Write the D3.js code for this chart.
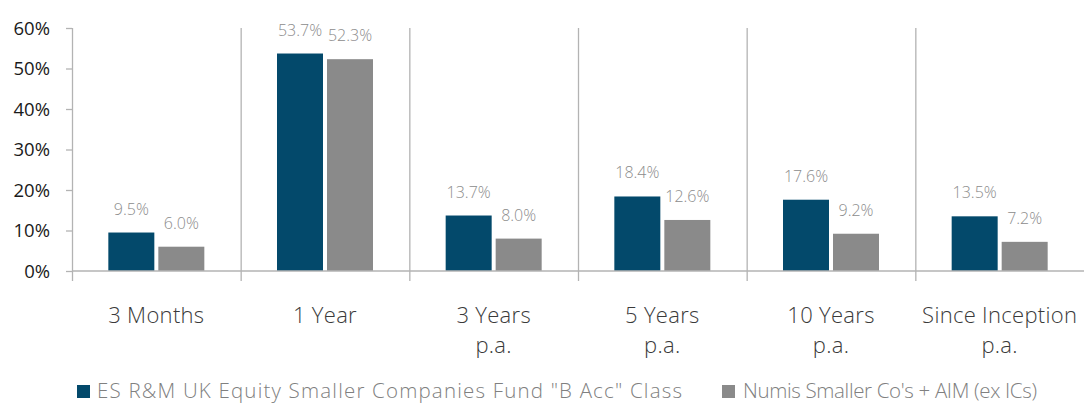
<!DOCTYPE html>
<html>
<head>
<meta charset="utf-8">
<script src="https://cdn.jsdelivr.net/npm/d3@7"></script>
<style>
  body { margin: 0; background: #fff; }
  text { font-family: "Open Sans", "Noto Sans", sans-serif; }
</style>
</head>
<body>
<div id="chart"></div>
<script>
// chart data
const categories = ["3 Months", "1 Year", "3 Years\np.a.", "5 Years\np.a.", "10 Years\np.a.", "Since Inception\np.a."];
const seriesNames = ['ES R&M UK Equity Smaller Companies Fund "B Acc" Class', "Numis Smaller Co's + AIM (ex ICs)"];
const fundValues = [9.5, 53.7, 13.7, 18.4, 17.6, 13.5];
const indexValues = [6.0, 52.3, 8.0, 12.6, 9.2, 7.2];
const yTicks = [0, 10, 20, 30, 40, 50, 60];
const colors = ["#03496b", "#8a8a8a"];

const width = 1084, height = 403;
const margin = {top: 28, right: 0, bottom: 132, left: 72};
const innerWidth = width - margin.left - margin.right;
const innerHeight = height - margin.top - margin.bottom;

const svg = d3.select("#chart").append("svg")
    .attr("width", width)
    .attr("height", height);
const g = svg.append("g")
    .attr("transform", `translate(${margin.left},${margin.top})`);

const x = d3.scaleBand()
    .domain(categories)
    .range([0, innerWidth]);

const y = d3.scaleLinear()
    .domain([0, 60])
    .range([innerHeight, 0]);

const data = categories.map((c, i) => ({cat: c, vals: [fundValues[i], indexValues[i]]}));

// category separators
g.selectAll(".sep")
    .data(categories)
    .join("line")
        .attr("class", "sep")
        .attr("x1", d => x(d) + 0.5)
        .attr("x2", d => x(d) + 0.5)
        .attr("y1", 0)
        .attr("y2", innerHeight + 10)
        .attr("stroke", "#b3b3b3")
        .attr("stroke-width", 1.3);

// y axis
const yAxis = d3.axisLeft(y)
    .tickValues(yTicks)
    .tickFormat(d => d + "%")
    .tickSize(6)
    .tickPadding(16);
const yG = g.append("g").call(yAxis);
yG.select(".domain").remove();
yG.selectAll(".tick line").attr("stroke", "#b3b3b3").attr("stroke-width", 1.3);
yG.selectAll(".tick text")
    .attr("fill", "#1a1a1a")
    .style("font-size", "18.5px")
    .attr("dy", "0.35em");

// bars
const barW = 46, gap = 4;
const groups = g.selectAll(".grp")
    .data(data)
    .join("g")
        .attr("class", "grp")
        .attr("transform", d => `translate(${x(d.cat) + x.bandwidth() / 2},0)`);

groups.selectAll("rect")
    .data(d => d.vals)
    .join("rect")
        .attr("x", (d, i) => i === 0 ? -barW - gap / 2 : gap / 2)
        .attr("y", d => y(d))
        .attr("width", barW)
        .attr("height", d => innerHeight - y(d))
        .attr("fill", (d, i) => colors[i]);

groups.selectAll(".lbl")
    .data(d => d.vals)
    .join("text")
        .attr("class", "lbl")
        .attr("x", (d, i) => i === 0 ? -barW / 2 - gap / 2 : barW / 2 + gap / 2)
        .attr("y", d => y(d) - 18)
        .attr("text-anchor", "middle")
        .attr("fill", "#8c8c8c")
        .style("font-size", "16px")
        .style("font-weight", 300)
        .text(d => d.toFixed(1) + "%");

// x axis baseline
g.append("line")
    .attr("x1", 0).attr("x2", innerWidth)
    .attr("y1", innerHeight).attr("y2", innerHeight)
    .attr("stroke", "#b3b3b3")
    .attr("stroke-width", 1.5);

// category labels
const xl = g.selectAll(".xl")
    .data(categories)
    .join("text")
        .attr("class", "xl")
        .attr("x", d => x(d) + x.bandwidth() / 2)
        .attr("y", innerHeight + 52)
        .attr("text-anchor", "middle")
        .attr("fill", "#3a3a3a")
        .style("font-size", "22px")
        .style("font-weight", 300)
        .style("letter-spacing", "0.3px");
xl.selectAll("tspan")
    .data(d => d.split("\n"))
    .join("tspan")
        .attr("x", function() { return this.parentNode.getAttribute("x"); })
        .attr("dy", (d, i) => i === 0 ? 0 : 30)
        .text(d => d);

// legend
const legendX = [77, 722];
const legendW = [585, 294];
const legend = svg.selectAll(".leg")
    .data(seriesNames)
    .join("g")
        .attr("class", "leg")
        .attr("transform", (d, i) => `translate(${legendX[i]},384)`);
legend.append("rect")
    .attr("y", 1)
    .attr("width", 13).attr("height", 13)
    .attr("fill", (d, i) => colors[i]);
legend.append("text")
    .attr("x", (d, i) => i === 0 ? 20 : 21)
    .attr("y", 13.5)
    .attr("fill", "#808080")
    .attr("textLength", (d, i) => legendW[i])
    .attr("lengthAdjust", "spacing")
    .style("font-size", "20.5px")
    .style("font-weight", 300)
    .text(d => d);
</script>
</body>
</html>
